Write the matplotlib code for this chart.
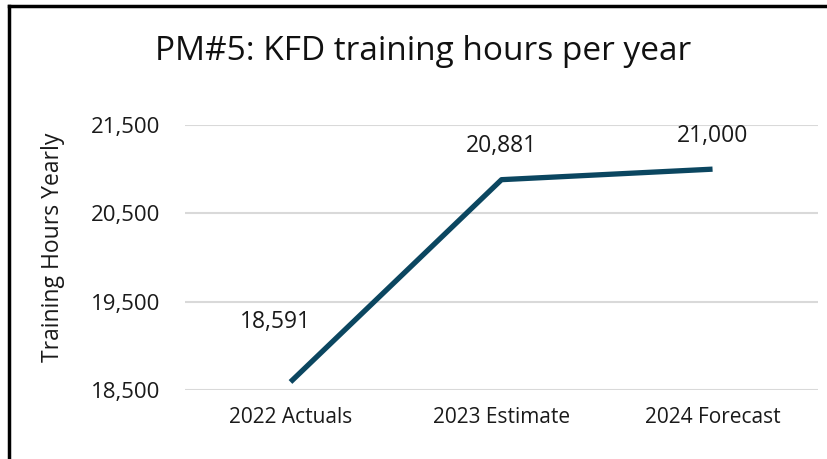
import matplotlib
matplotlib.use("Agg")
import matplotlib.pyplot as plt
from matplotlib.lines import Line2D
from matplotlib.ticker import FuncFormatter

plt.rcParams['font.family'] = ['Open Sans', 'DejaVu Sans']

categories = ["2022 Actuals", "2023 Estimate", "2024 Forecast"]
hours = [18591, 20881, 21000]
yticks = [18500, 19500, 20500, 21500]

# label offsets in points (styling, not data)
label_offsets = [(-11, 43), (0, 24), (0, 24)]

fig = plt.figure(figsize=(8.28, 4.59), dpi=100)
ax = fig.add_axes([0.2234, 0.1503, 0.7646, 0.5774])

x = list(range(len(categories)))
ax.plot(x, hours, color="#0b4660", lw=3.8, solid_capstyle="butt", zorder=3)

for xi, v, off in zip(x, hours, label_offsets):
    ax.annotate(f"{v:,}", (xi, v), xytext=off, textcoords="offset points",
                ha="center", va="center", fontsize=16.5, color="#1a1a1a")

ax.set_xlim(-0.5, 2.5)
ax.set_ylim(18500, 21500)
ax.set_yticks(yticks)
ax.yaxis.set_major_formatter(FuncFormatter(lambda v, p: f"{int(v):,}"))
ax.set_xticks(x)
ax.set_xticklabels(categories)
ax.tick_params(axis="x", length=0, labelsize=15, colors="#1a1a1a", pad=12)
ax.tick_params(axis="y", length=0, labelsize=16, colors="#1a1a1a", pad=18)
ax.grid(axis="y", color="#d9d9d9", lw=1.5)
ax.set_axisbelow(True)
for s in ax.spines.values():
    s.set_visible(False)

ax.set_ylabel("Training Hours Yearly", fontsize=16.5, color="#1a1a1a")
ax.yaxis.set_label_coords(-0.19, 0.54)

fig.text(0.511, 0.887, "PM#5: KFD training hours per year", ha="center", va="center",
         fontsize=24, color="#111111")

# outer border (top and left visible in the crop)
fig.add_artist(Line2D([0.0108, 0.0108], [0, 0.987], transform=fig.transFigure,
                      color="black", lw=2.5))
fig.add_artist(Line2D([0.0108, 1.0], [0.987, 0.987], transform=fig.transFigure,
                      color="black", lw=2.5))

fig.savefig("out.png", dpi=100)
